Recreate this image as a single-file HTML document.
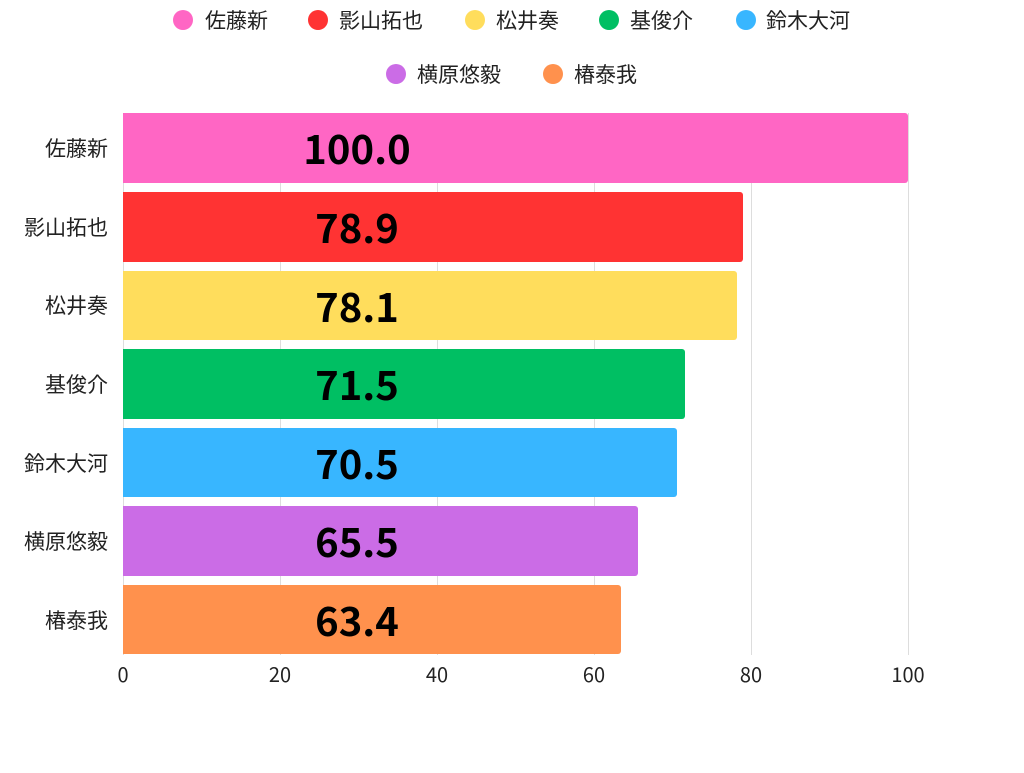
<!DOCTYPE html>
<html><head><meta charset="utf-8"><style>
body{margin:0;background:#fff;}
svg text{font-family:"Noto Sans CJK JP","Liberation Sans",sans-serif;}
</style></head><body>
<svg width="1024" height="768" viewBox="0 0 1024 768" xmlns="http://www.w3.org/2000/svg">
<g font-size="21" fill="#222">
<circle cx="183" cy="20" r="10" fill="#ff66c4"/><text x="205" y="28">佐藤新</text>
<circle cx="318" cy="20" r="10" fill="#ff3333"/><text x="339" y="28">影山拓也</text>
<circle cx="475" cy="20" r="10" fill="#ffdd5c"/><text x="496" y="28">松井奏</text>
<circle cx="609" cy="20" r="10" fill="#00bf63"/><text x="630" y="28">基俊介</text>
<circle cx="746" cy="20" r="10" fill="#38b6ff"/><text x="766" y="28">鈴木大河</text>
<circle cx="396" cy="74" r="10" fill="#cb6ce6"/><text x="417" y="82">横原悠毅</text>
<circle cx="553" cy="74" r="10" fill="#ff914d"/><text x="574" y="82">椿泰我</text>
</g>
<g stroke="#ddd" stroke-width="1">
<line x1="280.5" y1="113" x2="280.5" y2="655"/>
<line x1="437.5" y1="113" x2="437.5" y2="655"/>
<line x1="594.5" y1="113" x2="594.5" y2="655"/>
<line x1="751.5" y1="113" x2="751.5" y2="655"/>
<line x1="908.5" y1="113" x2="908.5" y2="655"/>
<line x1="123.5" y1="113" x2="123.5" y2="655"/>
</g>
<g>
<path d="M123 113h782a3 3 0 0 1 3 3v64a3 3 0 0 1-3 3h-782z" fill="#ff66c4"/>
<path d="M123 192h617a3 3 0 0 1 3 3v64a3 3 0 0 1-3 3h-617z" fill="#ff3333"/>
<path d="M123 271h611a3 3 0 0 1 3 3v63a3 3 0 0 1-3 3h-611z" fill="#ffdd5c"/>
<path d="M123 349h559a3 3 0 0 1 3 3v64a3 3 0 0 1-3 3h-559z" fill="#00bf63"/>
<path d="M123 428h551a3 3 0 0 1 3 3v63a3 3 0 0 1-3 3h-551z" fill="#38b6ff"/>
<path d="M123 506h512a3 3 0 0 1 3 3v64a3 3 0 0 1-3 3h-512z" fill="#cb6ce6"/>
<path d="M123 585h495a3 3 0 0 1 3 3v63a3 3 0 0 1-3 3h-495z" fill="#ff914d"/>
</g>
<g font-size="40" font-weight="bold" fill="#000" text-anchor="middle">
<text x="357" y="164">100.0</text>
<text x="357" y="243">78.9</text>
<text x="357" y="322">78.1</text>
<text x="357" y="400">71.5</text>
<text x="357" y="479">70.5</text>
<text x="357" y="557">65.5</text>
<text x="357" y="636">63.4</text>
</g>
<g font-size="21" fill="#222" text-anchor="end">
<text x="108" y="156">佐藤新</text>
<text x="108" y="235">影山拓也</text>
<text x="108" y="313">松井奏</text>
<text x="108" y="392">基俊介</text>
<text x="108" y="471">鈴木大河</text>
<text x="108" y="549">横原悠毅</text>
<text x="108" y="628">椿泰我</text>
</g>
<g font-size="20" fill="#222" text-anchor="middle">
<text x="123" y="682">0</text>
<text x="280" y="682">20</text>
<text x="437" y="682">40</text>
<text x="594" y="682">60</text>
<text x="751" y="682">80</text>
<text x="908" y="682">100</text>
</g>
</svg>
</body></html>
